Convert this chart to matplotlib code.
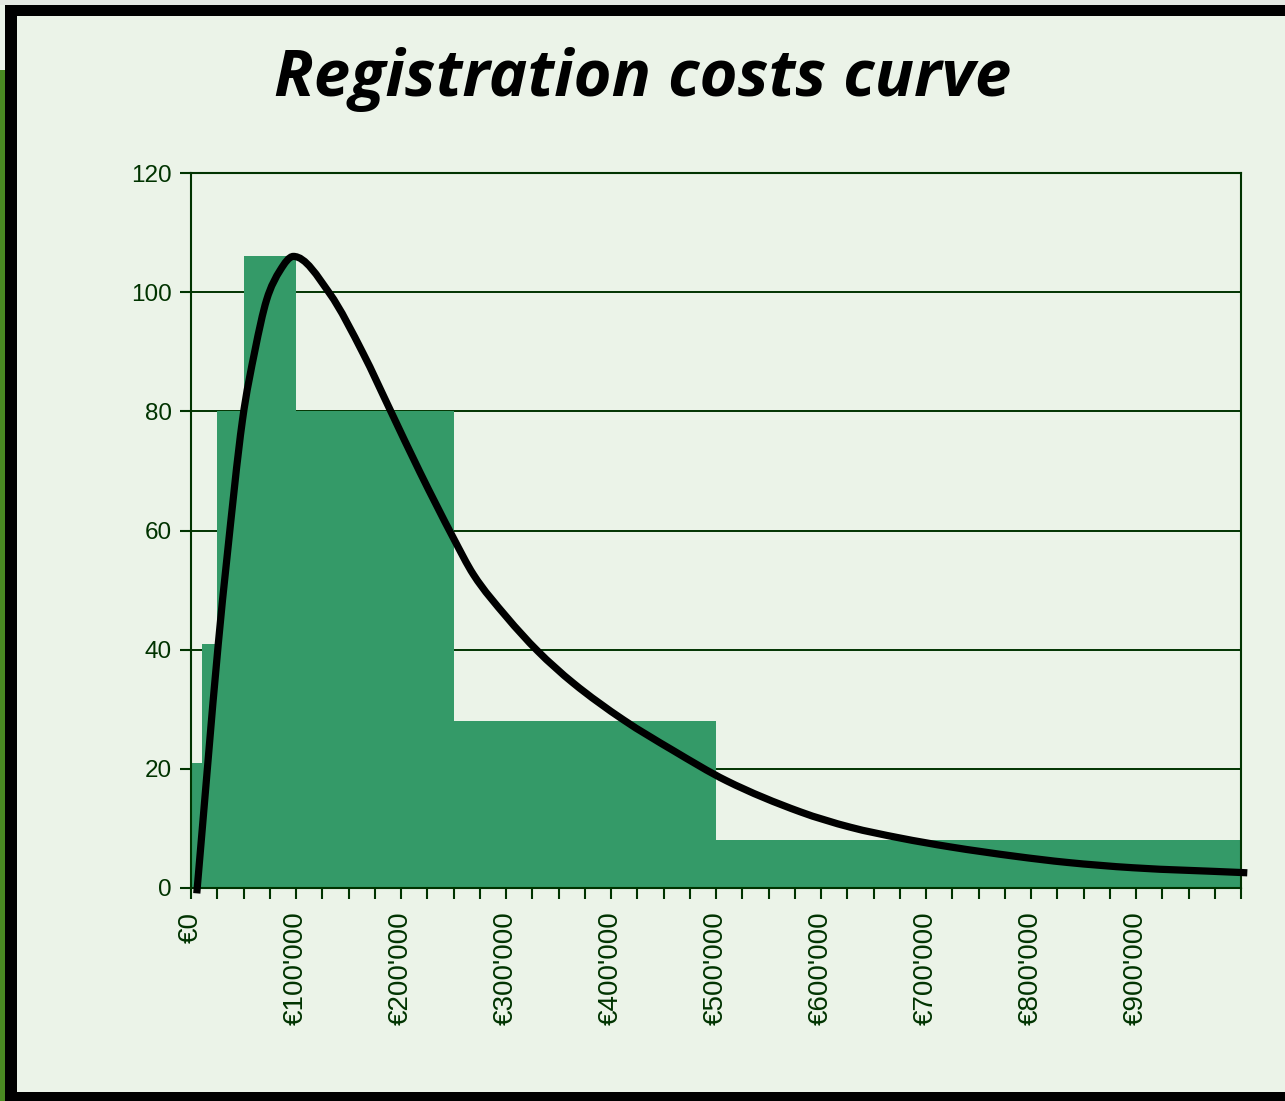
import numpy as np
import matplotlib
matplotlib.use("Agg")
import matplotlib.pyplot as plt
from matplotlib.patches import Rectangle, PathPatch
from matplotlib.path import Path
from matplotlib.ticker import FixedLocator

# histogram of registration costs (bin edges in EUR)
bin_edges = [0, 10000, 25000, 50000, 100000, 250000, 500000, 1000000]
bin_heights = [21, 41, 80, 106, 80, 28, 8]

# fitted curve
curve_x = [5500, 26000, 34000, 49000, 61000, 72000, 85000, 97500, 132000,
           164000, 189500, 218000, 250000, 269000, 300500, 330000,
           364000, 412000, 459000, 510000, 580000, 628000, 675000, 723000,
           786000, 834000, 897000, 1000000, 1006000]
curve_y = [-0.9, 41, 55, 78.5, 90.3, 98.7, 103.7, 106, 99.8,
           89.7, 80.3, 69.8, 58.7, 52.6, 45.5, 39.8,
           34.4, 28.2, 23.1, 18.0, 12.8, 10.2, 8.4, 6.9,
           5.3, 4.3, 3.4, 2.6, 2.55]

y_ticks = [0, 20, 40, 60, 80, 100, 120]
x_ticks = list(range(0, 1000001, 25000))
x_labels = ["€" + ("0" if v == 0 else "{:,}".format(v).replace(",", "'")) if v % 100000 == 0 and v < 1000000 else ""
            for v in x_ticks]

W, H = 1285, 1101
bg = "#ebf3e8"
dark = "#003300"
bar_col = "#349a68"

fig = plt.figure(figsize=(W / 100, H / 100), dpi=100, facecolor=bg)

# slide frame pieces (pixel -> figure fraction)
def px_rect(x0, y0, x1, y1, color):
    fig.patches.append(Rectangle((x0 / W, 1 - y1 / H), (x1 - x0) / W, (y1 - y0) / H,
                                 transform=fig.transFigure, facecolor=color,
                                 edgecolor="none", zorder=0))

px_rect(0, 0, W, 5, "#e4e9e2")
px_rect(0, 70, 5, H, "#4a8a22")
px_rect(5, 5, W, 16, "black")
px_rect(5, 5, 17, H, "black")
px_rect(5, 1092, W, H, "black")

ax = fig.add_axes([191 / W, 1 - 888 / H, (1241 - 191) / W, (888 - 173) / H])
ax.set_facecolor(bg)

ax.bar(bin_edges[:-1], bin_heights, width=np.diff(bin_edges), align="edge",
       color=bar_col, linewidth=0, zorder=2)

# smoothed line: Hermite segments in x drawn as cubic Bezier curves
cx = np.array(curve_x, dtype=float)
cy = np.array(curve_y, dtype=float)
sec = np.diff(cy) / np.diff(cx)
m = np.empty_like(cy)
m[0], m[-1] = sec[0], sec[-1]
m[1:-1] = (sec[:-1] + sec[1:]) / 2
verts = [(cx[0], cy[0])]
codes = [Path.MOVETO]
for i in range(len(cx) - 1):
    h = cx[i + 1] - cx[i]
    verts += [(cx[i] + h / 3, cy[i] + m[i] * h / 3),
              (cx[i + 1] - h / 3, cy[i + 1] - m[i + 1] * h / 3),
              (cx[i + 1], cy[i + 1])]
    codes += [Path.CURVE4] * 3
ax.add_patch(PathPatch(Path(verts, codes), fill=False, edgecolor="black",
                       linewidth=5.2, clip_on=False, capstyle="butt", zorder=4))

ax.set_xlim(0, 1000000)
ax.set_ylim(0, 120)
ax.set_yticks(y_ticks)
ax.yaxis.grid(True, color=dark, linewidth=1.4, zorder=1)
ax.set_axisbelow(True)
ax.xaxis.set_major_locator(FixedLocator(x_ticks))
ax.set_xticklabels(x_labels, rotation=90)

for s in ax.spines.values():
    s.set_color(dark)
    s.set_linewidth(1.5)

ax.tick_params(axis="both", colors=dark, labelcolor=dark, length=8, width=1.5,
               direction="out")
ax.tick_params(axis="x", pad=9, labelsize=20)
ax.tick_params(axis="y", pad=6, labelsize=17.5)
for lab in ax.get_xticklabels() + ax.get_yticklabels():
    lab.set_family(["Liberation Sans", "DejaVu Sans"])

fig.text(643 / W, 1 - 79 / H, "Registration costs curve", ha="center", va="center",
         fontsize=47, fontweight="bold", fontstyle="italic",
         family=["Open Sans", "DejaVu Sans"], color="black")

fig.savefig("out.png", dpi=100, facecolor=bg)
